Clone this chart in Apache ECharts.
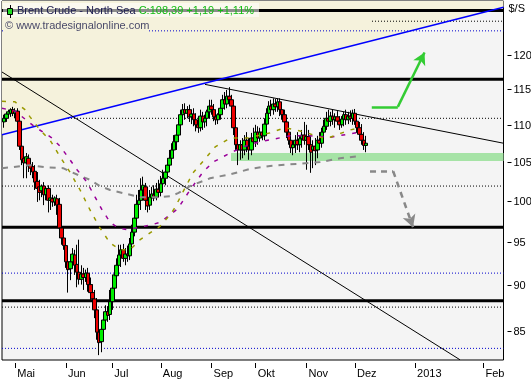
<!DOCTYPE html>
<html><head><meta charset="utf-8">
<script src="https://cdn.jsdelivr.net/npm/echarts@6/dist/echarts.min.js"></script>
<style>html,body{margin:0;padding:0;background:#fff}#c{width:531px;height:380px}</style>
</head><body><div id="c"></div>
<script>
// ---------- data ----------
const firstBar = -5; // bar slot index of the first candle (slot 0 = 1 May 2012)
const opens = [110.4,110.9,111.5,111.6,112.1,111.6,111.9,110.5,107.1,105.5,104.9,105.5,104.6,104.4,103.8,102.5,101.8,101.3,101.9,100.8,101.6,100.1,100.3,99.9,100.3,99.6,96.7,95.5,94.6,92.7,91.9,92.7,93.5,92.4,91.5,90.7,91.3,90.9,91.4,90.1,89.2,88.5,87.3,84.9,83.9,85.2,86.2,87.1,86.8,88.2,89.7,91.1,92.3,93.5,94.1,93.1,93.6,93.4,94.8,96.2,97.9,99.6,100.1,101.4,101.8,100.1,99.5,100.4,100.8,100.5,101.5,101.1,102.2,102.9,103.7,104.6,105.5,106.6,107.7,108.6,110.0,111.4,112.1,111.6,112.1,111.1,111.5,110.7,110.0,109.6,111.2,110.4,110.9,111.8,112.6,112.1,111.1,110.7,111.4,112.3,113.5,112.9,114.0,113.5,112.6,109.6,107.3,106.6,107.3,106.6,107.9,107.1,106.6,108.2,107.7,109.0,108.2,109.0,108.5,110.1,111.6,112.6,112.1,112.9,112.5,113.2,112.1,111.4,110.4,109.0,107.9,106.9,107.3,107.9,107.3,108.1,108.6,107.9,108.4,107.3,106.6,107.1,106.6,107.9,107.5,109.0,109.8,110.9,110.5,111.2,110.7,111.1,110.5,110.0,110.8,111.4,110.7,111.2,110.9,111.6,110.5,109.6,108.7,107.9,107.2];
const highs = [111.4,111.8,112.1,112.3,112.5,112.3,112.3,110.8,109.3,106.6,106.2,106.0,105.3,105.0,104.6,103.7,102.7,102.1,102.4,101.9,102.0,100.9,100.8,100.6,100.8,100.4,97.9,96.5,95.5,94.1,93.5,94.3,94.1,94.7,95.3,92.3,92.0,91.8,92.0,90.9,90.1,89.5,88.6,86.2,85.7,86.8,87.8,87.7,89.5,90.1,91.8,93.1,94.7,94.7,94.8,94.3,94.6,95.5,97.1,98.6,100.8,101.4,102.9,103.1,102.3,101.1,101.4,101.8,102.0,102.3,102.7,103.2,104.0,104.6,105.5,106.6,107.5,108.6,109.6,110.9,112.1,112.9,113.0,112.6,112.8,112.1,112.3,111.6,110.9,112.1,111.8,111.4,112.1,113.5,113.5,112.9,112.1,111.6,112.8,114.2,114.6,114.9,115.3,114.2,112.8,110.4,108.6,107.9,108.2,108.6,109.0,108.2,108.9,109.6,110.0,109.8,109.6,110.0,110.9,112.3,113.3,113.5,113.7,113.6,113.7,113.7,112.9,112.1,111.2,110.0,108.9,107.7,108.6,109.0,108.5,109.3,110.4,110.0,109.3,108.2,107.9,108.2,108.5,109.0,109.6,110.7,111.8,112.1,111.8,112.1,111.6,111.9,111.2,111.2,111.8,112.1,111.8,112.0,112.1,112.2,111.4,110.4,110.1,109.0,108.5];
const lows = [109.6,110.4,110.9,111.1,111.2,110.9,110.1,106.6,104.6,102.9,102.9,103.7,103.3,102.9,101.4,99.9,100.1,100.5,99.5,100.1,98.6,98.9,99.3,99.4,98.3,95.9,94.7,94.1,92.0,89.2,90.6,92.0,91.2,89.8,90.1,90.1,89.5,90.4,89.3,88.4,87.7,86.4,84.1,82.5,82.8,84.3,85.4,86.0,86.2,87.3,89.0,90.3,91.5,92.1,92.7,92.3,92.7,92.9,94.3,95.7,97.1,98.6,98.9,100.1,98.9,98.6,98.9,99.5,100.0,100.1,100.5,100.6,101.4,102.0,102.9,103.7,104.6,105.5,106.6,107.7,109.0,110.4,110.7,110.9,110.4,110.1,109.8,109.1,108.9,109.1,109.3,109.6,109.8,110.9,111.4,110.5,110.0,110.1,110.7,111.6,112.1,112.3,112.6,111.8,108.6,106.6,104.6,105.3,105.5,105.9,106.3,105.3,105.9,106.9,107.0,107.3,107.7,107.9,107.9,109.6,110.9,111.2,111.4,111.8,111.8,111.2,110.7,109.8,108.2,107.3,106.2,105.9,106.2,106.6,106.3,106.9,107.3,104.0,106.6,103.6,104.2,104.6,105.5,106.6,106.9,108.4,109.3,110.1,109.8,110.0,109.6,110.1,109.3,109.6,109.8,110.0,110.1,110.4,110.0,110.0,108.9,108.2,107.3,106.6,106.3];
const closes = [110.9,111.5,111.8,112.1,111.6,111.9,110.5,107.1,105.3,104.9,105.7,104.5,104.2,103.7,102.4,101.6,101.1,101.9,100.8,101.6,100.1,100.4,99.9,100.4,99.5,96.7,95.5,94.6,92.7,91.8,92.7,93.6,92.3,91.5,90.7,91.3,90.9,91.4,90.1,89.2,88.5,87.3,84.9,83.8,85.2,86.2,87.1,86.7,88.2,89.7,91.2,92.3,93.5,94.1,93.1,93.6,93.4,94.8,96.2,97.9,99.6,100.1,101.4,102.0,100.1,99.4,100.5,100.9,100.4,101.5,101.1,102.2,102.9,103.7,104.6,105.5,106.6,107.7,108.6,110.0,111.4,112.1,111.6,112.1,111.1,111.5,110.7,110.0,109.6,111.2,110.4,110.9,111.8,112.6,112.1,111.1,110.7,111.4,112.3,113.5,112.9,114.0,113.5,112.6,109.6,107.3,106.6,107.3,106.6,107.9,107.1,106.6,108.2,107.7,109.0,108.2,109.0,108.5,110.1,111.6,112.6,112.1,112.9,112.5,113.2,112.1,111.4,110.4,109.0,107.9,106.9,107.3,107.9,107.3,108.1,108.6,107.9,108.4,107.3,106.3,107.1,106.5,107.9,107.5,109.0,109.8,110.9,110.5,111.2,110.7,111.1,110.5,110.0,110.8,111.4,110.7,111.2,110.9,111.6,110.5,109.6,108.7,107.9,107.2,107.5];

// moving averages (slot position, value)
const olivePos = [-6,-0.1,4.4,6.7,11.2,15.8,20.3,24.8,29.4,33.9,38.4,43.0,47.5,52.0,56.6,61.1,65.6,70.2,72.4,76.1,80.6,85.1,90.6,97.4,105.1,111.0,115.5,122.3,126.8,131.4,135.0,139.5,142.7,148.1,151.8,156.3];
const oliveVal = [113.3,113.2,112.1,111.1,109.3,107.9,105.7,103.7,101.4,98.9,96.7,94.9,94.1,94.1,95.3,96.1,96.9,98.3,99.2,101.2,103.6,105.1,107.0,108.2,108.2,108.6,108.9,109.6,109.3,109.0,108.6,108.2,108.3,108.9,109.3,109.6];
const purplePos = [-6,-0.1,8.5,16.2,20.3,24.8,28.0,32.5,36.2,39.4,43.0,46.6,50.7,56.6,62.0,65.6,70.2,73.8,79.2,85.1,89.7,97.4,104.2,111.0,117.8,124.6,133.6,142.7,150.4,156.3];
const purpleVal = [112.3,111.9,109.8,108.3,107.1,105.3,104.0,102.4,100.5,98.9,97.4,96.7,96.5,96.8,97.1,97.4,98.3,99.1,101.4,103.7,105.0,106.2,107.1,107.7,108.1,108.5,108.5,108.3,108.7,109.0];
const greyPos = [-6,6.7,14.4,21.7,29.4,33.9,38.4,43.0,48.9,56.6,65.6,70.2,73.8,79.2,88.3,97.4,106.4,115.5,124.6,138.2,147.2,156.3];
const greyVal = [104.2,104.6,104.3,104.2,103.2,102.7,101.9,101.4,101.0,100.5,100.5,100.6,101.0,101.9,102.9,103.4,104.1,104.5,104.7,105.0,105.5,105.8];

// horizontal levels
const thickLevels = [126.9, 116.45, 96.8, 88.3];
const blackDotLevels = [110.9, 101.9, 87.6];
const blueDotLevels = [123.7, 91.4, 83.2];
const shortDotLevel = 125.2, shortDotStart = 161.7;
// support zone
const zoneStart = 97.8, zoneTop = 106.2, zoneBottom = 105.15;
// trend lines (slot, value)
const blueLineX = [-6, 221.3], blueLineV = [108.65, 127.4];
const resistX = [86.0, 221.3], resistV = [115.7, 107.5];
const fallX = [-6, 201.6], fallV = [117.5, 82.02];
// scenario arrows
const upArrowX = [161.6, 173.4, 185.5], upArrowV = [112.5, 112.5, 120.4];
const downArrowX = [160.8, 171.3, 180.3], downArrowV = [103.8, 103.8, 96.8];

// axes
const monthPos = [0, 23, 44, 66, 89, 109, 132, 154, 181.2, 212.2];
const monthLabels = ['Mai','Jun','Jul','Aug','Sep','Okt','Nov','Dez','2013','Feb'];
const yTicks = [85, 90, 95, 100, 105, 110, 115, 120];
const X_MIN = -6, X_MAX = 221.3, Y_MIN = 82.0, Y_MAX = 128.4;

const FONT = '"Liberation Sans", Arial, sans-serif';

// ---------- build ----------
const pts = (xs, vs) => xs.map((x, k) => [x, vs[k]]);
const candles = opens.map((o, k) => [firstBar + k, o, closes[k], lows[k], highs[k]]);

function hSeries(v, color, width, type, z, x0) {
  return { type: 'line', data: [[x0 == null ? X_MIN : x0, v], [X_MAX, v]], symbol: 'none', silent: true,
    lineStyle: { color: color, width: width, type: type }, z: z };
}

const series = [];
blackDotLevels.forEach(v => series.push(hSeries(v, '#000', 1, [1, 2], 1)));
// yellow zone above the blue line
series.push({ type: 'line', data: pts(blueLineX, blueLineV), symbol: 'none', silent: true,
  lineStyle: { width: 0 }, areaStyle: { color: '#f5f2dc', opacity: 1, origin: 'end' }, z: 2 });
// support zone
series.push({ type: 'line', data: [], silent: true, z: 2,
  markArea: { silent: true, itemStyle: { color: '#a6e3a6' }, data: [[{ coord: [zoneStart, zoneTop] }, { coord: [X_MAX, zoneBottom] }]] } });
thickLevels.forEach(v => series.push(hSeries(v, '#000', 3, 'solid', 4)));
blueDotLevels.forEach(v => series.push(hSeries(v, '#0000cc', 1, [1, 2], 4)));
series.push(hSeries(shortDotLevel, '#000', 1, [1, 2], 4, shortDotStart));
// trend lines
series.push({ type: 'line', data: pts(blueLineX, blueLineV), symbol: 'none', silent: true, lineStyle: { color: '#0000ff', width: 1.5 }, z: 5 });
series.push({ type: 'line', data: pts(resistX, resistV), symbol: 'none', silent: true, lineStyle: { color: '#000', width: 1 }, z: 5 });
series.push({ type: 'line', data: pts(fallX, fallV), symbol: 'none', silent: true, lineStyle: { color: '#000', width: 1 }, z: 5 });
// candles
series.push({ type: 'candlestick', data: candles, encode: { x: 0, y: [1, 2, 3, 4] }, barWidth: 4, z: 6,
  itemStyle: { color: '#00ee00', color0: '#ee0000', borderColor: '#000', borderColor0: '#000', borderColorDoji: '#000', borderWidth: 1 } });
// moving averages
series.push({ type: 'line', data: pts(greyPos, greyVal), symbol: 'none', silent: true, lineStyle: { color: '#888888', width: 2, type: [6, 6] }, z: 7 });
series.push({ type: 'line', data: pts(purplePos, purpleVal), symbol: 'none', silent: true, lineStyle: { color: '#990099', width: 1.5, type: [4, 7] }, z: 7 });
series.push({ type: 'line', data: pts(olivePos, oliveVal), symbol: 'none', silent: true, lineStyle: { color: '#999900', width: 1.5, type: [4, 7] }, z: 7 });
// arrows
function arrow(xs, vs, color, type) {
  return { type: 'line', data: [], silent: true, z: 8,
    markLine: { silent: true, animation: false, label: { show: false }, symbol: ['none', 'none'],
      lineStyle: { color: color, width: 2.5, type: type },
      emphasis: { disabled: true },
      data: [
        [{ coord: [xs[0], vs[0]], symbol: 'none' }, { coord: [xs[1], vs[1]], symbol: 'none' }],
        [{ coord: [xs[1], vs[1]], symbol: 'none' }, { coord: [xs[2], vs[2]], symbol: 'arrow', symbolSize: [10, 12] }]
      ] } };
}
series.push(arrow(upArrowX, upArrowV, '#33cc33', 'solid'));
series.push(arrow(downArrowX, downArrowV, '#888888', [6, 5]));

const option = {
  animation: false,
  backgroundColor: '#ffffff',
  grid: { left: 2, right: 27.5, top: 1, bottom: 20, show: true, backgroundColor: '#f4f4f4', borderColor: '#000', borderWidth: 1 },
  xAxis: { type: 'value', min: X_MIN, max: X_MAX, offset: 3,
    axisLine: { show: false }, splitLine: { show: false },
    axisTick: { show: true, length: 5, customValues: monthPos, lineStyle: { color: '#000' } },
    axisLabel: { customValues: monthPos, align: 'left', margin: 5, padding: [0, 0, 0, 2], color: '#000', fontSize: 11, fontFamily: FONT,
      formatter: function (val) { let b = 0; monthPos.forEach((p, k) => { if (Math.abs(p - val) < Math.abs(monthPos[b] - val)) b = k; }); return monthLabels[b]; } } },
  yAxis: { type: 'log', min: Y_MIN, max: Y_MAX, position: 'right', axisLine: { show: false }, axisTick: { show: false }, axisLabel: { show: false }, splitLine: { show: false } },
  series: series
};

const chart = echarts.init(document.getElementById('c'), null, { renderer: 'canvas' });
chart.setOption(option);

const gx = chart.convertToPixel({ xAxisIndex: 0 }, X_MAX);
const els = [];
yTicks.forEach(v => {
  const py = Math.round(chart.convertToPixel({ yAxisIndex: 0 }, v)) + 0.5;
  els.push({ type: 'line', z: 100, shape: { x1: gx + 4, y1: py, x2: gx + 8, y2: py }, style: { stroke: '#000', lineWidth: 1 } });
  els.push({ type: 'text', z: 100, x: gx + 10, y: py, style: { text: String(v), font: '11px ' + FONT, fill: '#000', align: 'left', verticalAlign: 'middle', textAlign: 'left', textVerticalAlign: 'middle' } });
});
els.push({ type: 'text', z: 100, x: gx + 5, y: 9, style: { text: '$/S', font: '11px ' + FONT, fill: '#000', align: 'left', verticalAlign: 'middle', textAlign: 'left', textVerticalAlign: 'middle' } });
// title box
els.push({ type: 'rect', z: 100, shape: { x: 3, y: 3, width: 256, height: 14 }, style: { fill: 'rgba(255,255,255,0.55)' } });
els.push({ type: 'line', z: 101, shape: { x1: 10.5, y1: 5, x2: 10.5, y2: 18 }, style: { stroke: '#000', lineWidth: 1 } });
els.push({ type: 'rect', z: 102, shape: { x: 7.5, y: 8.5, width: 5, height: 6 }, style: { fill: '#22dd22', stroke: '#000', lineWidth: 1 } });
els.push({ type: 'text', z: 101, x: 17, y: 10.5, style: {
  text: '{a|Brent Crude - North Sea} {b|C:108,39 +1,19 +1,11%}',
  rich: { a: { font: '11px ' + FONT, fill: '#1a1a4e', color: '#1a1a4e' }, b: { font: '11px ' + FONT, fill: '#11bb11', color: '#11bb11' } },
  font: '11px ' + FONT, align: 'left', verticalAlign: 'middle', textAlign: 'left', textVerticalAlign: 'middle' } });
// watermark
els.push({ type: 'rect', z: 100, shape: { x: 3, y: 18, width: 145, height: 15 }, style: { fill: '#f5f2dc' } });
els.push({ type: 'text', z: 101, x: 5, y: 25.5, style: { text: '\u00a9 www.tradesignalonline.com', font: '11px ' + FONT, fill: '#4a4a6a', align: 'left', verticalAlign: 'middle', textAlign: 'left', textVerticalAlign: 'middle' } });
chart.setOption({ graphic: { elements: els } });
</script></body></html>
